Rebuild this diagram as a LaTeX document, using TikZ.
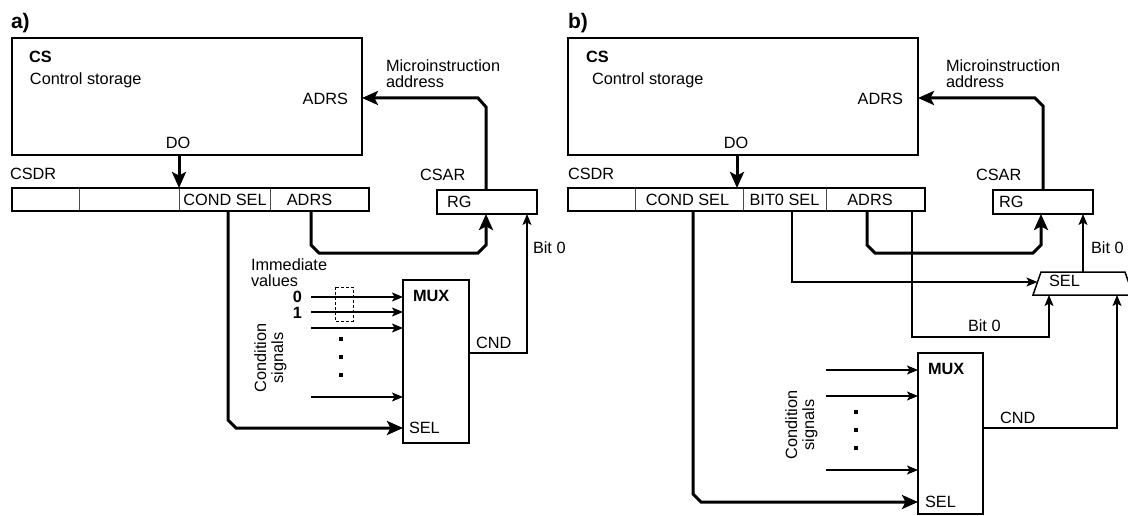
\documentclass[tikz,border=0pt]{standalone}
\usepackage{fontspec}
\setmainfont{Liberation Sans}
\usetikzlibrary{arrows.meta}
\begin{document}
\begin{tikzpicture}[x=1pt,y=-1pt,
  every node/.style={inner sep=0pt,outer sep=0pt},
  lbl/.style={font=\fontsize{16.3}{17}\selectfont,anchor=base west},
  lblc/.style={font=\fontsize{16.3}{17}\selectfont,anchor=base},
  lblr/.style={font=\fontsize{16.3}{17}\selectfont,anchor=base east},
  bold/.style={font=\fontsize{16.3}{17}\selectfont\bfseries,anchor=base west},
  panel/.style={font=\fontsize{21}{22}\selectfont\bfseries,anchor=base west},
  box/.style={draw,line width=1.8pt,rectangle,anchor=north west},
  cell/.style={draw=black!70,line width=0.9pt,rectangle,anchor=north west,minimum height=23pt},
  bus/.style={line width=3pt,line join=miter,-{Stealth[length=16pt,width=14pt,inset=3.5pt]}},
  wire/.style={line width=1.2pt,-{Stealth[length=11pt,width=9pt,inset=2.5pt]}},
  dot/.style={fill,rectangle,minimum size=3.6pt},
  rot/.style={font=\fontsize{16.3}{17}\selectfont,rotate=90,align=center}
]
\fill[white] (0,0) rectangle (1128,516);
\useasboundingbox (0,0) rectangle (1128,516);

% ================= panel a) =================
\node[panel] (pa) at (11,29) {a)};
\node[box,minimum width=350pt,minimum height=117pt] (csA) at (12,38) {};
\node[bold] (csnA) at (29,63) {CS};
\node[lbl] (cstA) at (30,85) {Control storage};
\node[lblr] (adrA) at (348,104.5) {ADRS};
\node[lblc] (doA) at (178,149) {DO};

% CSDR register
\node[lbl] (csdrlA) at (10,180) {CSDR};
\node[cell,minimum width=67pt] (c1A) at (12,188) {};
\node[cell,minimum width=100pt] (c2A) at (79,188) {};
\node[cell,minimum width=91pt] (c3A) at (179,188) {};
\node[cell,minimum width=99pt] (c4A) at (270,188) {};
\node[box,minimum width=357pt,minimum height=23pt] (csdrA) at (12,188) {};
\node[lblc] (t3A) at (225,205) {COND SEL};
\node[lblc] (t4A) at (309.5,205) {ADRS};

% CSAR register
\node[lbl] (csarA) at (420,181) {CSAR};
\node[box,minimum width=100pt,minimum height=24pt] (rgA) at (437,190) {};
\node[lbl] (rgtA) at (447,207.5) {RG};
\node[lbl] (mi1A) at (386,71.5) {Microinstruction};
\node[lbl] (mi2A) at (386,87.5) {address};

% multiplexer
\node[box,minimum width=66pt,minimum height=163pt] (muxA) at (403,280) {};
\node[bold] (muxtA) at (413,301) {MUX};
\node[lbl] (seltA) at (409,433) {SEL};
\node[lbl] (cndtA) at (476,348) {CND};
\node[lbl] (b0A) at (533,254) {Bit 0};
\node[lbl] (im1A) at (251,270) {Immediate};
\node[lbl] (im2A) at (251,286.5) {values};
\node[font=\fontsize{16.3}{17}\selectfont\bfseries,anchor=base east] (v0A) at (302,302) {0};
\node[font=\fontsize{16.3}{17}\selectfont\bfseries,anchor=base east] (v1A) at (302,318) {1};
\node[rot] (condA) at (270.5,358) {Condition\\signals};
\node[dot] (d1A) at (341,339) {};
\node[dot] (d2A) at (341,357) {};
\node[dot] (d3A) at (341,375) {};
\draw[line width=1pt,dash pattern=on 3pt off 2pt] (335,287) rectangle (353,321);

% helper coordinates
\coordinate (xDOa) at (179,0);
\coordinate (xCSa) at (228,0);
\coordinate (xADa) at (311,0);
\coordinate (xRGa) at (486,0);
\coordinate (xB0a) at (527,0);
\coordinate (yMIa) at (0,98);
\coordinate (ySELa) at (0,428);
\coordinate (yCNDa) at (0,353);

% connectors a)
\draw[bus] (xDOa |- csA.south) -- (xDOa |- csdrA.north);
\draw[bus] (xRGa |- rgA.north) -- (486,107) -- (478,98) -- (csA.east |- yMIa);
\draw[bus] (xADa |- csdrA.south) -- (311,245) -- (319,253) -- (478,253) -- (486,245) -- (xRGa |- rgA.south);
\draw[bus] (xCSa |- csdrA.south) -- (228,420) -- (236,428) -- (muxA.west |- ySELa);
\draw[wire] (muxA.east |- yCNDa) -- (527,353) -- (xB0a |- rgA.south);
\foreach \yy in {297,312,328,397}
  \draw[wire] (311,\yy) coordinate (s) -- (s -| muxA.west);

% ================= panel b) =================
\node[panel] (pb) at (568,29) {b)};
\node[box,minimum width=350pt,minimum height=117pt] (csB) at (568,38) {};
\node[bold] (csnB) at (586,63) {CS};
\node[lbl] (cstB) at (592,85) {Control storage};
\node[lblr] (adrB) at (903,104.5) {ADRS};
\node[lblc] (doB) at (736,149) {DO};

% CSDR register
\node[lbl] (csdrlB) at (568,180) {CSDR};
\node[cell,minimum width=67pt] (c1B) at (568,188) {};
\node[cell,minimum width=108pt] (c2B) at (635,188) {};
\node[cell,minimum width=83pt] (c3B) at (743,188) {};
\node[cell,minimum width=99pt] (c4B) at (826,188) {};
\node[box,minimum width=357pt,minimum height=23pt] (csdrB) at (568,188) {};
\node[lblc] (t2B) at (687.5,205) {COND SEL};
\node[lblc] (t3B) at (784.5,205) {BIT0 SEL};
\node[lblc] (t4B) at (870,205) {ADRS};

% CSAR register
\node[lbl] (csarB) at (976,181) {CSAR};
\node[box,minimum width=100pt,minimum height=24pt] (rgB) at (993,190) {};
\node[lbl] (rgtB) at (999,207.5) {RG};
\node[lbl] (mi1B) at (946,71.5) {Microinstruction};
\node[lbl] (mi2B) at (946,87.5) {address};

% bit 0 selector
\begin{scope}
  \clip (0,0) rectangle (1128,516);
  \draw[line width=1.5pt,line join=miter] (1041,272) -- (1125,272) -- (1133,295) -- (1033,295) -- cycle;
\end{scope}
\coordinate (selTop) at (1083,272);
\coordinate (selLeft) at (1037.5,282);
\coordinate (selB1) at (1049,295);
\coordinate (selB2) at (1117,295);
\node[lbl] (seltrB) at (1049,286) {SEL};
\node[lbl] (b0uB) at (1091,254) {Bit 0};
\node[lbl] (b0lB) at (968,331) {Bit 0};

% multiplexer
\node[box,minimum width=65pt,minimum height=161pt] (muxB) at (918,353) {};
\node[bold] (muxtB) at (928,374) {MUX};
\node[lbl] (seltB) at (925,507) {SEL};
\node[lbl] (cndtB) at (1000,423) {CND};
\node[rot] (condB) at (801.5,425) {Condition\\signals};
\node[dot] (d1B) at (856,412) {};
\node[dot] (d2B) at (856,430) {};
\node[dot] (d3B) at (856,448) {};

% helper coordinates
\coordinate (xDOb) at (737,0);
\coordinate (xCSb) at (693,0);
\coordinate (xBSb) at (792,0);
\coordinate (xADb) at (867,0);
\coordinate (xA0b) at (912,0);
\coordinate (xRGb) at (1043,0);
\coordinate (xRG2b) at (1041,0);
\coordinate (yMIb) at (0,98);
\coordinate (ySELb) at (0,502);
\coordinate (yCNDb) at (0,428);

% connectors b)
\draw[bus] (xDOb |- csB.south) -- (xDOb |- csdrB.north);
\draw[bus] (xRGb |- rgB.north) -- (1043,106) -- (1035,98) -- (csB.east |- yMIb);
\draw[bus] (xADb |- csdrB.south) -- (867,245) -- (875,253) -- (1033,253) -- (1041,245) -- (xRG2b |- rgB.south);
\draw[bus] (xCSb |- csdrB.south) -- (693,494) -- (701,502) -- (muxB.west |- ySELb);
\draw[wire] (xBSb |- csdrB.south) -- (792,282) -- (selLeft);
\draw[wire] (xA0b |- csdrB.south) -- (912,337) -- (1049,337) -- (selB1);
\draw[wire] (muxB.east |- yCNDb) -- (1117,428) -- (selB2);
\draw[wire] (selTop) -- (selTop |- rgB.south);
\foreach \yy in {370,396,470}
  \draw[wire] (826,\yy) coordinate (s) -- (s -| muxB.west);
\end{tikzpicture}
\end{document}
